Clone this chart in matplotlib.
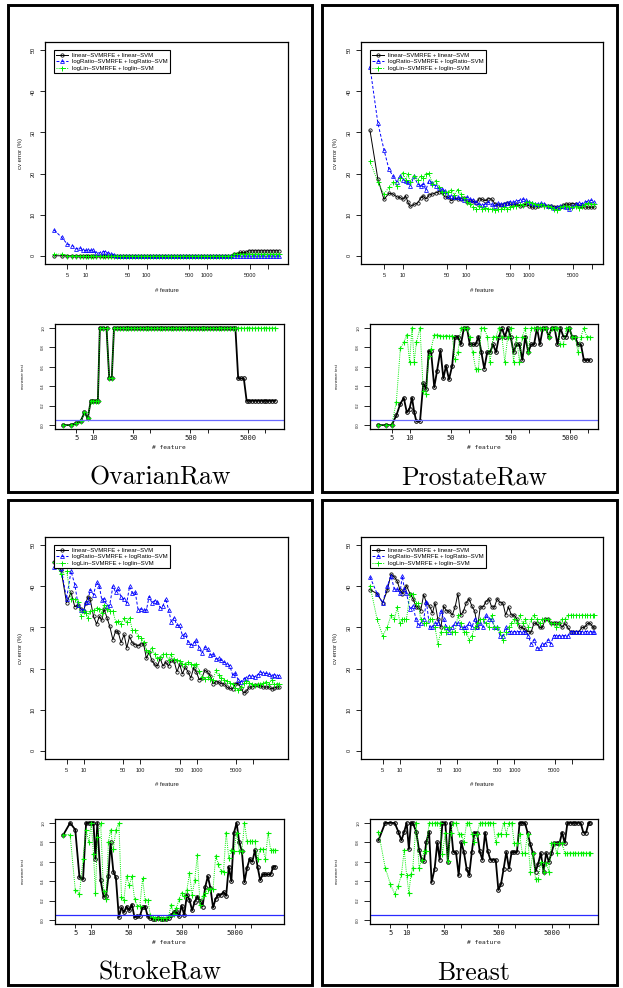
import matplotlib
matplotlib.use("Agg")
import numpy as np
import matplotlib.pyplot as plt
from matplotlib.patches import Rectangle
from matplotlib.ticker import NullLocator

plt.rcParams['font.family'] = ['Liberation Sans', 'DejaVu Sans']

W, H = 623, 988

# ---------------------------------------------------------------- data
SERIES_LABELS = ['linear–SVMRFE + linear–SVM',
                 'logRatio–SVMRFE + logRatio–SVM',
                 'logLin–SVMRFE + loglin–SVM']
DATASET_NAMES = ['OvarianRaw', 'ProstateRaw', 'StrokeRaw', 'Breast']
X_TICKS = [5, 10, 50, 100, 500, 1000, 5000, 10000]
X_TICKLABELS_CV = ['5', '10', '50', '100', '500', '1000', '5000', '']
X_TICKLABELS_TEST = ['5', '10', '50', '', '500', '', '5000', '']
CV_TICKS = [0, 10, 20, 30, 40, 50]
TEST_TICKS = [0.0, 0.2, 0.4, 0.6, 0.8, 1.0]
SIGNIF_LEVEL = 0.05

# ---- OvarianRaw
features_ovarian = [
    3, 4, 5, 6, 7, 8, 9, 10, 11, 12,
    13, 15, 17, 19, 21, 23, 26, 29, 33, 37,
    41, 46, 52, 58, 65, 73, 82, 92, 103, 115,
    129, 144, 161, 180, 202, 226, 253, 284, 318, 356,
    399, 447, 500, 560, 627, 702, 787, 881, 987, 1105,
    1238, 1386, 1553, 1739, 1948, 2182, 2443, 2737, 3065, 3433,
    3845, 4306, 4823, 5402, 6050, 6776, 7590, 8500, 9520, 10663,
    11942, 13375, 15154]
ovarian_cv_linear = [
    0, 0, 0, 0, 0, 0, 0, 0, 0, 0,
    0, 0, 0, 0, 0, 0, 0, 0, 0, 0,
    0, 0, 0, 0, 0, 0, 0, 0, 0, 0,
    0, 0, 0, 0, 0, 0, 0, 0, 0, 0,
    0, 0, 0, 0, 0, 0, 0, 0, 0, 0,
    0, 0, 0, 0, 0, 0, 0, 0.4, 0.4, 0.8,
    0.8, 0.8, 1.2, 1.2, 1.2, 1.2, 1.2, 1.2, 1.2, 1.2,
    1.2, 1.2, 1.2]
ovarian_cv_logratio = [
    6.3, 4.5, 2.8, 2.5, 1.7, 2.0, 1.3, 1.3, 1.3, 1.3,
    1.3, 0.7, 0.7, 1.0, 1.0, 0.7, 0.5, 0.3, 0, 0,
    0, 0, 0, 0, 0, 0, 0, 0, 0, 0,
    0, 0, 0, 0, 0, 0, 0, 0, 0, 0,
    0, 0, 0, 0, 0, 0, 0, 0, 0, 0,
    0, 0, 0, 0, 0, 0, 0, 0, 0, 0,
    0, 0, 0, 0, 0, 0, 0, 0, 0, 0,
    0, 0, 0]
ovarian_cv_loglin = [
    0.4, 0.4, 0, 0, 0, 0, 0, 0, 0, 0,
    0, 0, 0, 0, 0, 0, 0, 0, 0, 0,
    0, 0, 0, 0, 0, 0, 0, 0, 0, 0,
    0, 0, 0, 0, 0, 0, 0, 0, 0, 0,
    0, 0, 0, 0, 0, 0, 0, 0, 0, 0,
    0, 0, 0, 0, 0, 0, 0, 0.4, 0.4, 0.4,
    0.4, 0.4, 0.4, 0.4, 0.4, 0.4, 0.4, 0.4, 0.4, 0.4,
    0.4, 0.4, 0.4]
ovarian_test_linear = [
    0.0, 0.0, 0.02, 0.04, 0.13, 0.07, 0.25, 0.25, 0.25, 0.25,
    1.0, 1.0, 1.0, 0.48, 0.48, 1.0, 1.0, 1.0, 1.0, 1.0,
    1.0, 1.0, 1.0, 1.0, 1.0, 1.0, 1.0, 1.0, 1.0, 1.0,
    1.0, 1.0, 1.0, 1.0, 1.0, 1.0, 1.0, 1.0, 1.0, 1.0,
    1.0, 1.0, 1.0, 1.0, 1.0, 1.0, 1.0, 1.0, 1.0, 1.0,
    1.0, 1.0, 1.0, 1.0, 1.0, 1.0, 1.0, 1.0, 1.0, 0.48,
    0.48, 0.48, 0.25, 0.25, 0.25, 0.25, 0.25, 0.25, 0.25, 0.25,
    0.25, 0.25, 0.25]
ovarian_test_loglin = [
    0.0, 0.0, 0.02, 0.04, 0.13, 0.07, 0.25, 0.25, 0.25, 0.25,
    1.0, 1.0, 1.0, 0.48, 0.48, 1.0, 1.0, 1.0, 1.0, 1.0,
    1.0, 1.0, 1.0, 1.0, 1.0, 1.0, 1.0, 1.0, 1.0, 1.0,
    1.0, 1.0, 1.0, 1.0, 1.0, 1.0, 1.0, 1.0, 1.0, 1.0,
    1.0, 1.0, 1.0, 1.0, 1.0, 1.0, 1.0, 1.0, 1.0, 1.0,
    1.0, 1.0, 1.0, 1.0, 1.0, 1.0, 1.0, 1.0, 1.0, 1.0,
    1.0, 1.0, 1.0, 1.0, 1.0, 1.0, 1.0, 1.0, 1.0, 1.0,
    1.0, 1.0, 1.0]

# ---- ProstateRaw
features_prostate = [
    3, 4, 5, 6, 7, 8, 9, 10, 11, 12,
    13, 15, 17, 19, 21, 23, 26, 29, 33, 37,
    41, 46, 52, 58, 65, 73, 82, 92, 103, 115,
    129, 144, 161, 180, 202, 226, 253, 284, 318, 356,
    399, 447, 500, 560, 627, 702, 787, 881, 987, 1105,
    1238, 1386, 1553, 1739, 1948, 2182, 2443, 2737, 3065, 3433,
    3845, 4306, 4823, 5402, 6050, 6776, 7590, 8500, 9520, 10600]
prostate_cv_linear = [
    30.5, 18.7, 13.7, 15.2, 15.0, 14.3, 14.2, 13.7, 14.6, 13.0,
    12.0, 12.5, 12.8, 14.0, 14.6, 13.8, 14.8, 15.0, 15.3, 15.6,
    15.5, 14.3, 14.3, 13.4, 14.0, 13.8, 13.8, 14.0, 13.2, 13.3,
    13.3, 12.8, 13.9, 13.7, 13.4, 13.9, 13.8, 12.7, 12.4, 12.3,
    12.6, 12.9, 12.5, 12.4, 12.5, 12.2, 12.3, 12.5, 12.2, 11.8,
    11.9, 12.2, 12.4, 12.3, 12.1, 12.0, 11.9, 11.8, 11.8, 12.3,
    12.6, 12.5, 12.7, 12.6, 12.2, 12.1, 11.9, 11.8, 11.8, 11.8]
prostate_cv_logratio = [
    46.0, 32.3, 25.8, 21.0, 19.3, 18.0, 19.5, 18.5, 18.2, 18.0,
    17.0, 19.3, 17.5, 17.0, 17.5, 16.0, 18.3, 17.7, 17.0, 16.5,
    16.3, 15.8, 14.5, 14.5, 14.3, 14.2, 14.0, 13.5, 14.3, 13.8,
    13.5, 13.0, 12.5, 12.3, 12.5, 13.0, 12.5, 12.0, 12.8, 12.5,
    12.7, 12.9, 13.2, 13.0, 13.3, 13.5, 13.8, 13.5, 13.0, 12.8,
    12.5, 12.6, 12.8, 12.5, 12.2, 12.0, 11.7, 11.8, 12.0, 12.2,
    11.8, 11.5, 12.0, 12.5, 12.8, 12.7, 13.0, 13.3, 13.5, 13.2]
prostate_cv_loglin = [
    23.0, 18.0, 15.0, 16.7, 18.0, 17.0, 19.0, 20.2, 18.5, 20.0,
    18.0, 19.5, 18.5, 19.3, 19.0, 19.9, 20.1, 17.5, 18.3, 16.8,
    15.5, 15.4, 15.5, 16.0, 14.7, 16.1, 15.0, 14.0, 13.0, 12.5,
    11.8, 11.5, 12.0, 11.5, 11.7, 11.4, 11.5, 11.2, 11.4, 11.3,
    11.8, 11.5, 11.8, 12.0, 12.2, 12.5, 12.4, 13.0, 13.2, 12.8,
    12.5, 12.3, 12.5, 12.0, 12.2, 11.8, 11.4, 11.2, 11.8, 12.0,
    12.2, 11.9, 11.8, 12.0, 11.6, 12.2, 12.5, 12.8, 12.7, 12.5]
prostate_test_linear = [
    0.0, 0.0, 0.0, 0.10, 0.22, 0.28, 0.13, 0.17, 0.28, 0.13,
    0.04, 0.04, 0.43, 0.37, 0.76, 0.76, 0.39, 0.56, 0.77, 0.48,
    0.61, 0.47, 0.61, 0.91, 0.91, 0.83, 1.0, 1.0, 0.83, 0.83,
    0.83, 0.91, 0.75, 0.58, 0.75, 0.75, 0.83, 0.75, 0.91, 1.0,
    0.91, 1.0, 0.91, 0.75, 0.83, 0.83, 0.67, 0.91, 0.75, 0.83,
    0.83, 1.0, 0.83, 1.0, 1.0, 0.91, 1.0, 1.0, 0.83, 1.0,
    0.91, 0.91, 1.0, 0.91, 0.91, 0.83, 0.83, 0.67, 0.67, 0.67]
prostate_test_loglin = [
    0.0, 0.0, 0.0, 0.24, 0.79, 0.85, 0.93, 0.65, 1.0, 0.65,
    0.85, 1.0, 0.35, 0.32, 0.71, 0.78, 0.93, 0.93, 0.92, 0.92,
    0.92, 0.92, 0.92, 0.68, 0.75, 1.0, 1.0, 1.0, 0.91, 0.75,
    0.58, 0.58, 1.0, 1.0, 0.91, 0.65, 0.91, 0.91, 1.0, 0.91,
    0.65, 0.91, 1.0, 0.65, 0.91, 0.65, 0.91, 1.0, 0.75, 1.0,
    1.0, 1.0, 1.0, 1.0, 1.0, 0.91, 1.0, 1.0, 1.0, 0.83,
    0.83, 1.0, 1.0, 0.91, 0.91, 0.75, 0.91, 1.0, 0.91, 0.91]

# ---- StrokeRaw
features_stroke = [
    3, 4, 5, 6, 7, 8, 9, 10, 11, 12,
    13, 15, 17, 19, 21, 23, 26, 29, 33, 37,
    41, 46, 52, 58, 65, 73, 82, 92, 103, 115,
    129, 144, 161, 180, 202, 226, 253, 284, 318, 356,
    399, 447, 500, 560, 627, 702, 787, 881, 987, 1105,
    1238, 1386, 1553, 1739, 1948, 2182, 2443, 2737, 3065, 3433,
    3845, 4306, 4823, 5402, 6050, 6776, 7590, 8500, 9520, 10663,
    11942, 13375, 14980, 16778, 18791, 21046, 23571, 26400, 28500]
stroke_cv_linear = [
    46.0, 44.0, 36.0, 38.5, 35.0, 35.5, 34.5, 34.0, 36.0, 37.5,
    37.0, 32.7, 30.8, 32.7, 31.7, 34.5, 32.3, 30.3, 27.0, 29.2,
    28.8, 26.3, 28.3, 25.0, 27.8, 26.2, 25.8, 25.5, 26.0, 26.0,
    22.5, 24.0, 22.0, 21.0, 20.6, 22.5, 20.6, 21.6, 20.6, 22.0,
    21.8, 19.2, 21.0, 18.7, 20.4, 19.2, 17.7, 20.2, 19.2, 17.3,
    17.7, 19.6, 19.2, 18.2, 16.3, 16.8, 16.7, 16.3, 16.3, 15.4,
    15.2, 15.0, 16.3, 16.4, 15.3, 14.0, 14.5, 15.5, 15.5, 16.0,
    16.0, 15.8, 15.5, 15.5, 15.5, 15.0, 15.3, 15.5, 15.5]
stroke_cv_logratio = [
    44.7, 44.5, 37.0, 43.7, 40.4, 35.5, 34.3, 34.3, 36.3, 36.3,
    39.2, 38.0, 41.0, 40.0, 36.7, 37.0, 35.2, 35.5, 40.0, 38.5,
    39.5, 37.3, 37.0, 36.0, 40.0, 38.3, 38.5, 34.3, 34.5, 34.2,
    34.2, 37.5, 36.0, 36.5, 36.3, 34.8, 35.3, 37.0, 34.3, 31.4,
    32.3, 30.5, 30.5, 28.0, 28.5, 26.5, 25.7, 26.2, 27.0, 25.0,
    23.7, 25.2, 24.7, 23.3, 23.6, 22.3, 22.5, 22.0, 21.5, 21.2,
    20.7, 18.5, 18.8, 17.3, 16.8, 17.5, 17.8, 18.3, 18.3, 18.0,
    18.5, 19.2, 18.8, 18.8, 18.7, 18.3, 18.5, 18.3, 18.3]
stroke_cv_loglin = [
    46.0, 42.9, 43.8, 37.0, 37.0, 36.3, 32.8, 34.0, 33.5, 32.3,
    34.0, 34.2, 34.7, 34.5, 33.5, 35.5, 34.5, 34.0, 34.0, 31.3,
    31.5, 30.8, 32.2, 31.3, 32.3, 29.3, 29.3, 28.0, 27.5, 26.5,
    24.5, 24.0, 25.0, 23.5, 22.5, 22.8, 23.5, 23.5, 22.2, 23.5,
    22.3, 22.0, 21.8, 21.0, 21.2, 21.5, 21.0, 20.8, 21.2, 19.5,
    18.0, 17.5, 18.0, 17.5, 17.2, 19.6, 18.5, 17.8, 17.3, 17.0,
    16.5, 16.2, 15.3, 14.8, 15.5, 16.5, 17.0, 16.5, 16.2, 16.0,
    16.2, 16.2, 16.6, 16.8, 16.3, 17.2, 16.3, 16.3, 16.3]
stroke_test_linear = [
    0.88, 1.0, 0.93, 0.44, 0.42, 1.0, 1.0, 1.0, 1.0, 0.63,
    1.0, 0.41, 0.24, 0.25, 0.45, 0.80, 0.50, 0.44, 0.03, 0.13,
    0.08, 0.14, 0.10, 0.16, 0.03, 0.04, 0.04, 0.13, 0.14, 0.04,
    0.02, 0.01, 0.01, 0.02, 0.01, 0.01, 0.01, 0.02, 0.05, 0.08,
    0.09, 0.04, 0.15, 0.05, 0.26, 0.21, 0.10, 0.19, 0.24, 0.20,
    0.14, 0.34, 0.45, 0.33, 0.13, 0.22, 0.26, 0.26, 0.29, 0.25,
    0.55, 0.40, 0.90, 1.0, 0.80, 0.71, 0.39, 0.54, 0.63, 0.60,
    0.72, 0.55, 0.41, 0.47, 0.47, 0.47, 0.47, 0.55, 0.55]
stroke_test_loglin = [
    0.88, 0.88, 0.31, 0.27, 0.63, 0.93, 0.80, 1.0, 0.68, 0.28,
    0.86, 1.0, 0.30, 0.22, 0.80, 0.93, 0.73, 0.93, 1.0, 0.24,
    0.21, 0.45, 0.36, 0.45, 0.22, 0.15, 0.15, 0.43, 0.21, 0.21,
    0.05, 0.03, 0.02, 0.02, 0.02, 0.02, 0.02, 0.04, 0.16, 0.06,
    0.12, 0.22, 0.28, 0.25, 0.31, 0.48, 0.26, 0.41, 0.67, 0.16,
    0.25, 0.28, 0.32, 0.32, 0.32, 0.66, 0.58, 0.51, 0.50, 0.90,
    0.64, 0.72, 0.71, 0.90, 0.71, 0.71, 1.0, 0.81, 0.81, 0.81,
    0.81, 0.63, 0.73, 0.73, 0.63, 0.90, 0.72, 0.72, 0.72]

# ---- Breast
features_breast = [
    3, 4, 5, 6, 7, 8, 9, 10, 11, 12,
    13, 15, 17, 19, 21, 23, 26, 29, 33, 37,
    41, 46, 52, 58, 65, 73, 82, 92, 103, 115,
    129, 144, 161, 180, 202, 226, 253, 284, 318, 356,
    399, 447, 500, 560, 627, 702, 787, 881, 987, 1105,
    1238, 1386, 1553, 1739, 1948, 2182, 2443, 2737, 3065, 3433,
    3845, 4306, 4823, 5402, 6050, 6776, 7590, 8500, 9520, 10663,
    11942, 13375, 14980, 16778, 18791, 21046, 23571, 24481]
breast_cv_linear = [
    39.2, 38.2, 36.0, 39.0, 43.0, 42.3, 41.2, 39.2, 38.2, 39.2,
    40.2, 38.2, 37.0, 35.0, 35.0, 34.0, 38.0, 36.0, 35.2, 33.5,
    36.0, 32.0, 30.0, 35.2, 34.0, 34.0, 33.0, 35.0, 38.2, 33.0,
    34.0, 36.0, 37.0, 35.2, 34.0, 30.0, 35.0, 35.0, 36.3, 37.0,
    35.0, 35.0, 37.0, 36.0, 36.0, 33.0, 35.0, 33.0, 33.0, 32.0,
    30.0, 30.0, 29.3, 29.0, 28.8, 31.0, 31.0, 30.0, 30.0, 32.0,
    32.0, 31.0, 31.0, 31.0, 31.0, 30.0, 31.0, 30.0, 29.0, 29.0,
    29.0, 29.0, 30.0, 30.0, 31.0, 31.0, 30.0, 30.0]
breast_cv_logratio = [
    42.3, 38.2, 36.0, 40.0, 42.5, 39.3, 39.3, 38.3, 42.5, 39.3,
    38.3, 34.5, 35.2, 32.0, 30.5, 31.0, 32.0, 36.3, 30.0, 30.0,
    31.0, 31.0, 34.0, 32.0, 30.0, 29.0, 30.0, 31.0, 31.0, 30.0,
    30.0, 30.0, 31.0, 30.0, 32.0, 30.0, 31.0, 30.0, 33.0, 32.0,
    32.0, 30.0, 30.0, 28.0, 28.0, 30.0, 29.0, 29.0, 29.0, 29.0,
    29.0, 29.0, 29.0, 28.0, 26.0, 27.0, 25.0, 25.0, 26.0, 26.0,
    27.0, 26.0, 28.0, 28.0, 28.0, 28.0, 28.0, 28.0, 29.0, 29.0,
    29.0, 29.0, 29.0, 29.0, 29.0, 29.0, 29.0, 29.0]
breast_cv_loglin = [
    40.2, 32.0, 28.0, 30.0, 33.0, 32.0, 35.0, 31.0, 32.0, 32.0,
    32.0, 38.2, 38.2, 36.0, 36.0, 32.0, 31.0, 31.0, 32.0, 32.0,
    30.0, 26.0, 29.0, 30.0, 29.0, 30.0, 29.0, 29.0, 33.0, 31.0,
    29.0, 29.0, 27.0, 28.0, 30.0, 31.0, 32.0, 32.0, 31.0, 30.0,
    33.0, 30.0, 30.0, 29.0, 27.0, 29.0, 30.0, 31.0, 32.0, 31.0,
    33.0, 31.0, 32.0, 30.0, 32.0, 33.0, 32.0, 31.0, 32.0, 32.0,
    32.0, 31.0, 31.0, 30.0, 31.0, 32.0, 32.0, 33.0, 33.0, 33.0,
    33.0, 33.0, 33.0, 33.0, 33.0, 33.0, 33.0, 33.0]
breast_test_linear = [
    0.82, 1.0, 1.0, 1.0, 0.91, 0.82, 0.91, 1.0, 0.73, 1.0,
    1.0, 0.91, 0.72, 0.62, 0.61, 0.80, 0.91, 0.39, 0.53, 0.80,
    0.62, 1.0, 1.0, 0.60, 1.0, 0.70, 0.70, 0.46, 0.80, 0.70,
    0.53, 0.46, 0.70, 0.90, 0.90, 0.71, 0.62, 0.90, 0.71, 0.62,
    0.62, 0.62, 0.31, 0.37, 0.53, 0.70, 0.53, 0.70, 0.70, 0.70,
    1.0, 1.0, 1.0, 0.90, 0.78, 0.69, 0.50, 0.58, 0.69, 0.50,
    0.69, 0.60, 0.69, 0.79, 0.79, 0.79, 0.90, 0.79, 1.0, 1.0,
    1.0, 1.0, 1.0, 1.0, 0.90, 0.90, 1.0, 1.0]
breast_test_loglin = [
    0.91, 0.54, 0.37, 0.27, 0.35, 0.47, 0.72, 0.46, 0.28, 0.47,
    0.54, 1.0, 0.54, 0.62, 0.71, 0.71, 1.0, 1.0, 1.0, 1.0,
    1.0, 0.68, 0.90, 0.61, 0.90, 1.0, 1.0, 0.89, 0.89, 0.80,
    1.0, 1.0, 0.89, 0.80, 0.89, 1.0, 1.0, 1.0, 1.0, 1.0,
    1.0, 0.80, 0.89, 0.89, 1.0, 0.89, 1.0, 1.0, 0.79, 0.79,
    0.89, 0.69, 0.69, 0.89, 0.50, 0.69, 0.42, 0.42, 0.60, 0.50,
    0.59, 0.50, 0.79, 0.79, 0.69, 0.79, 0.79, 0.69, 0.69, 0.69,
    0.69, 0.69, 0.69, 0.69, 0.69, 0.69, 0.69, 0.69]

# ---------------------------------------------------------------- styling
GREEN = '#00ee00'
BLUE = '#0000ff'
TICK_COLOR = '#1a1a1a'
MONO = 'DejaVu Sans Mono'


def px_rect(x0, y0, x1, y1):
    """Pixel box (y measured downward) -> figure fraction rect."""
    return [x0 / W, 1 - y1 / H, (x1 - x0) / W, (y1 - y0) / H]


def fx(x):
    return x / W


def fy(y):
    return 1 - y / H


def log_limits(ax, feats):
    lo, hi = np.log10(min(feats)), np.log10(max(feats))
    pad = 0.04 * (hi - lo)
    ax.set_xlim(10 ** (lo - pad), 10 ** (hi + pad))


def frame(ax):
    for s in ax.spines.values():
        s.set_linewidth(0.9)
        s.set_color('black')


def draw_cv(ax, feats, lin, lr, ll):
    ax.plot(feats, lin, color='black', lw=0.7, marker='o', ms=2.4,
            mfc='none', mec='black', mew=0.55, label=SERIES_LABELS[0])
    ax.plot(feats, lr, color=BLUE, lw=0.7, ls=(0, (3, 2)), marker='^',
            ms=2.8, mfc='none', mec=BLUE, mew=0.55, label=SERIES_LABELS[1])
    ax.plot(feats, ll, color=GREEN, lw=0.7, ls=(0, (1, 1.2)), marker='+',
            ms=3.6, mew=0.7, label=SERIES_LABELS[2])
    ax.set_xscale('log')
    log_limits(ax, feats)
    ax.set_ylim(-2, 52)
    ax.set_xticks(X_TICKS)
    ax.set_xticklabels(X_TICKLABELS_CV)
    ax.xaxis.set_minor_locator(NullLocator())
    ax.set_yticks(CV_TICKS)
    ax.set_yticklabels([str(v) for v in CV_TICKS], rotation=90, va='center')
    ax.tick_params(direction='out', length=3.5, width=0.6, labelsize=4.1,
                   pad=3, labelcolor=TICK_COLOR)
    frame(ax)
    leg = ax.legend(loc='upper left', bbox_to_anchor=(0.038, 0.962),
                    borderaxespad=0, fontsize=4.3, frameon=True,
                    fancybox=False, edgecolor='black', framealpha=1,
                    handlelength=2.0, handletextpad=0.6, borderpad=0.35,
                    labelspacing=0.25, numpoints=1)
    leg.get_frame().set_linewidth(0.8)


def draw_test(ax, feats, lin, ll, ref_color):
    ax.plot(feats, lin, color='black', lw=1.3, marker='o', ms=2.6,
            mfc='none', mec='black', mew=0.7)
    ax.plot(feats, ll, color=GREEN, lw=0.7, ls=(0, (1, 1.2)), marker='+',
            ms=3.6, mew=0.8)
    ax.axhline(SIGNIF_LEVEL, color=ref_color, lw=0.9)
    ax.set_xscale('log')
    log_limits(ax, feats)
    ax.set_ylim(-0.04, 1.04)
    ax.set_xticks(X_TICKS)
    ax.set_xticklabels(X_TICKLABELS_TEST, fontfamily=MONO, fontsize=5)
    ax.xaxis.set_minor_locator(NullLocator())
    ax.set_yticks(TEST_TICKS)
    ax.set_yticklabels(['%.1f' % v for v in TEST_TICKS], rotation=90,
                       va='center', fontsize=3)
    ax.tick_params(axis='x', direction='out', length=3, width=0.6, pad=1.2,
                   labelcolor=TICK_COLOR)
    ax.tick_params(axis='y', direction='out', length=4, width=0.6, pad=3,
                   labelcolor=TICK_COLOR)
    frame(ax)


# ---------------------------------------------------------------- figure
fig = plt.figure(figsize=(W / 100, H / 100), dpi=100)
fig.patch.set_facecolor('white')

panels = [
    (DATASET_NAMES[0], features_ovarian,
     (ovarian_cv_linear, ovarian_cv_logratio, ovarian_cv_loglin),
     (ovarian_test_linear, ovarian_test_loglin), 0, 0, '#6a6aff'),
    (DATASET_NAMES[1], features_prostate,
     (prostate_cv_linear, prostate_cv_logratio, prostate_cv_loglin),
     (prostate_test_linear, prostate_test_loglin), 1, 0, '#6a6aff'),
    (DATASET_NAMES[2], features_stroke,
     (stroke_cv_linear, stroke_cv_logratio, stroke_cv_loglin),
     (stroke_test_linear, stroke_test_loglin), 0, 1, '#2a2aff'),
    (DATASET_NAMES[3], features_breast,
     (breast_cv_linear, breast_cv_logratio, breast_cv_loglin),
     (breast_test_linear, breast_test_loglin), 1, 1, '#2a2aff'),
]

# pixel geometry of each cell
col_geom = [
    dict(box=(7.5, 311.5), cv=(45, 288), test=(55, 283.5),
         ylab_cv=20.7, ylab_test=22.7, title_x=160),
    dict(box=(322, 616.5), cv=(361, 603), test=(370, 598),
         ylab_cv=335, ylab_test=336.7, title_x=474),
]
row_geom = [
    dict(box=(5.5, 492), cv=(42, 264), test=(324, 429), title_y=478),
    dict(box=(500, 985), cv=(537, 759), test=(819, 924), title_y=973),
]

for name, feats, cv, test, c, r, ref_color in panels:
    cg, rg = col_geom[c], row_geom[r]

    bx0, bx1 = cg['box']
    by0, by1 = rg['box']
    fig.add_artist(Rectangle((fx(bx0), fy(by1)), (bx1 - bx0) / W,
                             (by1 - by0) / H, transform=fig.transFigure,
                             fill=False, lw=2.1, ec='black'))

    ax_cv = fig.add_axes(px_rect(cg['cv'][0], rg['cv'][0],
                                 cg['cv'][1], rg['cv'][1]))
    draw_cv(ax_cv, feats, *cv)
    fig.text(fx(cg['ylab_cv']), fy((rg['cv'][0] + rg['cv'][1]) / 2),
             'cv error (%)', rotation=90, ha='center', va='center',
             fontsize=4.2, color=TICK_COLOR)
    fig.text(fx((cg['cv'][0] + cg['cv'][1]) / 2), fy(rg['cv'][1] + 26),
             '# feature', ha='center', va='center', fontsize=4.3,
             color=TICK_COLOR)

    ax_t = fig.add_axes(px_rect(cg['test'][0], rg['test'][0],
                                cg['test'][1], rg['test'][1]))
    draw_test(ax_t, feats, *test, ref_color)
    fig.text(fx(cg['ylab_test']), fy((rg['test'][0] + rg['test'][1]) / 2),
             'mcnemar test', rotation=90, ha='center', va='center',
             fontsize=3, color=TICK_COLOR)
    fig.text(fx((cg['test'][0] + cg['test'][1]) / 2),
             fy(rg['test'][1] + 18.3), '# feature', ha='center',
             va='center', fontsize=4.5, family=MONO, color=TICK_COLOR)

    fig.text(fx(cg['title_x']), fy(rg['title_y']), name, ha='center',
             va='center', fontsize=18.6, family=['cmr10', 'DejaVu Serif'])

fig.savefig('out.png', dpi=100, facecolor='white')
